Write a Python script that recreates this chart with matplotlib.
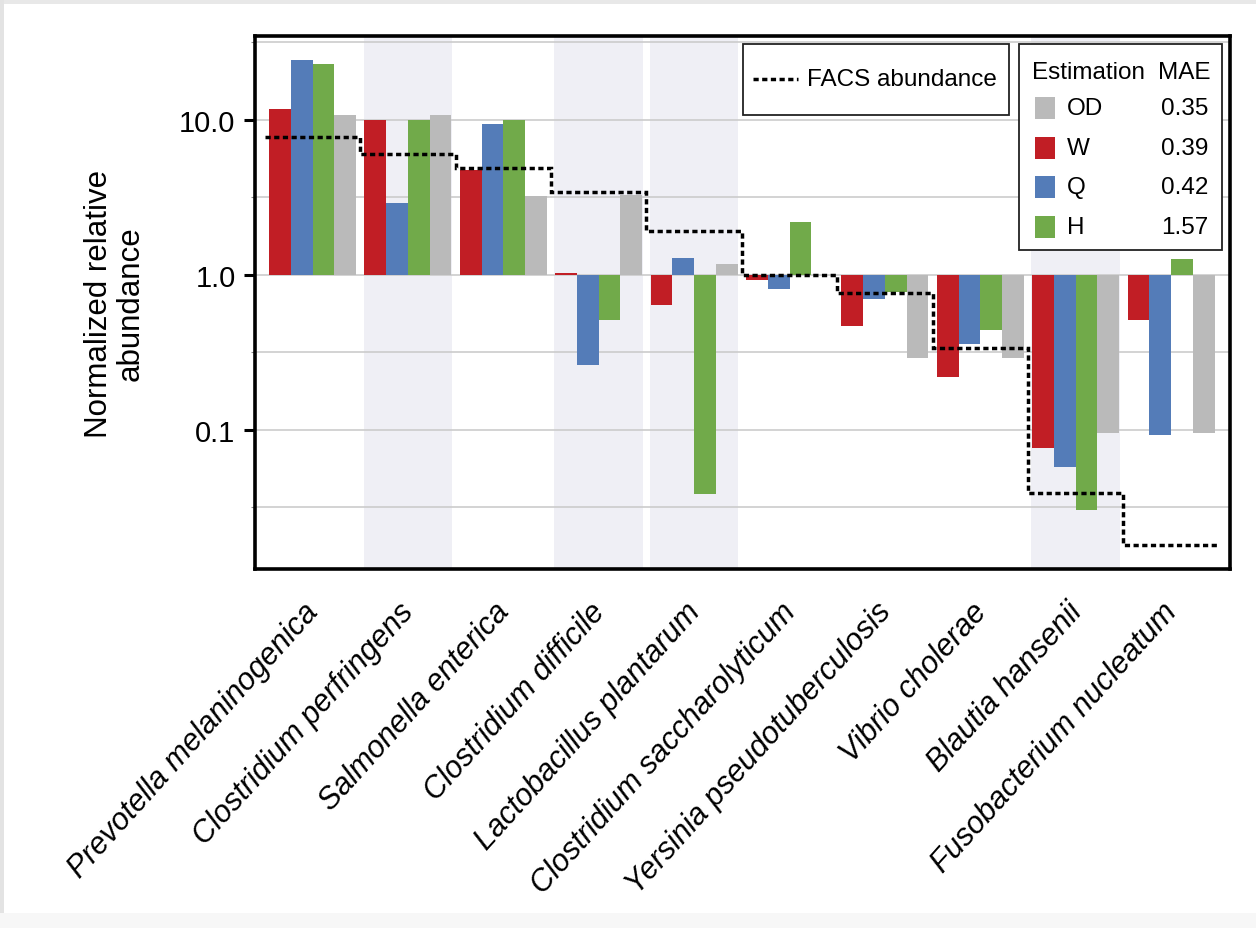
import numpy as np
import matplotlib.pyplot as plt
from matplotlib.patches import Rectangle
from matplotlib.lines import Line2D
from matplotlib.ticker import FixedLocator, NullFormatter
from matplotlib.transforms import ScaledTranslation

plt.rcParams['font.family'] = ['Liberation Sans', 'DejaVu Sans']

# species and normalized relative abundance per estimation method
species = ["Prevotella melaninogenica", "Clostridium perfringens", "Salmonella enterica",
           "Clostridium difficile", "Lactobacillus plantarum", "Clostridium saccharolyticum",
           "Yersinia pseudotuberculosis", "Vibrio cholerae", "Blautia hansenii",
           "Fusobacterium nucleatum"]
w_vals = [11.7, 10.0, 4.72, 1.03, 0.635, 0.92, 0.465, 0.219, 0.0765, 0.51]
q_vals = [24.4, 2.89, 9.43, 0.261, 1.29, 0.805, 0.70, 0.357, 0.0572, 0.092]
h_vals = [23.0, 10.0, 10.0, 0.51, 0.0385, 2.19, 0.777, 0.438, 0.0303, 1.26]
od_vals = [10.8, 10.8, 3.23, 3.27, 1.17, 1.0, 0.289, 0.289, 0.0957, 0.0957]
facs_vals = [7.7, 6.0, 4.9, 3.43, 1.91, 1.0, 0.765, 0.338, 0.039, 0.0181]

# legend table
legend_labels = ["OD", "W", "Q", "H"]
mae_vals = [0.35, 0.39, 0.42, 1.57]

shaded = [1, 3, 4, 8]
red, blue, green, gray = '#C11E25', '#547CB8', '#71AA4A', '#BABABA'
color_of = {"W": red, "Q": blue, "H": green, "OD": gray}

W, H = 1256, 929
fig = plt.figure(figsize=(W / 100, H / 100), dpi=100)
fig.patch.set_facecolor('white')

def fx(x):
    return x / W

def fy(y):
    return 1 - y / H

# thin grey margins around the page
for (x0, y0, x1, y1, c) in [(0, 0, W, 5, '#e8e8e8'), (0, 0, 4, H, '#e3e3e3'),
                            (0, 914, W, H, '#f7f7f7')]:
    fig.add_artist(Rectangle((fx(x0), fy(y1)), fx(x1) - fx(x0), fy(y0) - fy(y1),
                             transform=fig.transFigure, color=c, lw=0, zorder=-5))

ax = fig.add_axes([255 / W, fy(570), 975 / W, 533 / H])
ax.set_yscale('log')

n = len(species)
xs = np.arange(n)
width = 0.228

for g in shaded:
    ax.axvspan(g - 0.465, g + 0.465, color='#efeff5', lw=0, zorder=0)

series = [("W", w_vals), ("Q", q_vals), ("H", h_vals), ("OD", od_vals)]
for k, (name, vals) in enumerate(series):
    vals = np.array(vals)
    ax.bar(xs + (k - 1.5) * width, vals - 1.0, bottom=1.0, width=width,
           color=color_of[name], lw=0, zorder=2)

ax.stairs(facs_vals, np.arange(n + 1) - 0.5, baseline=None, color='black',
          lw=2.5, linestyle=(0, (1.5, 1.0)), zorder=3)

ax.set_xlim(-0.603, 9.617)
ax.set_ylim(0.01262, 34.7)

ax.set_yticks([0.1, 1, 10])
ax.set_yticklabels(['0.1', '1.0', '10.0'])
ax.yaxis.set_minor_locator(FixedLocator([10 ** -1.5, 10 ** -0.5, 10 ** 0.5, 10 ** 1.5]))
ax.yaxis.set_minor_formatter(NullFormatter())
ax.set_axisbelow(True)
ax.grid(which='both', axis='y', color='#c8c8c8', lw=1.1)

ax.tick_params(axis='y', which='major', length=8, width=2.2, labelsize=21, pad=6)
ax.tick_params(axis='y', which='minor', length=3, width=0.8, color='#888888')
ax.set_xticks(xs)
ax.set_xticklabels(species, rotation=48, ha='right', va='top',
                   rotation_mode='anchor', style='italic', fontsize=22)
ax.tick_params(axis='x', length=0, pad=20)
# nudge the slanted names a little to the left
shift = ScaledTranslation(-10 / 100, 0, fig.dpi_scale_trans)
for lbl in ax.get_xticklabels():
    lbl.set_transform(lbl.get_transform() + shift)

for s in ax.spines.values():
    s.set_linewidth(2.6)
    s.set_color('black')

fig.text(fx(115), fy(304), 'Normalized relative\nabundance', rotation=90,
         ha='center', va='center', fontsize=22.5, linespacing=1.05,
         multialignment='center')

# FACS legend
fig.add_artist(Rectangle((fx(743), fy(116)), fx(1009) - fx(743), fy(45) - fy(116),
                         transform=fig.transFigure, facecolor='white',
                         edgecolor='#222222', lw=1.3, zorder=5))
fig.add_artist(Line2D([fx(753), fx(798)], [fy(80), fy(80)], transform=fig.transFigure,
                      color='black', lw=2.5, linestyle=(0, (1.5, 1.0)), zorder=6))
fig.text(fx(807), fy(80), 'FACS abundance', fontsize=17.5, va='center', ha='left',
         zorder=6)

# estimation / MAE legend
fig.add_artist(Rectangle((fx(1019), fy(251)), fx(1222) - fx(1019), fy(45) - fy(251),
                         transform=fig.transFigure, facecolor='white',
                         edgecolor='#222222', lw=1.3, zorder=5))
fig.text(fx(1032), fy(73), 'Estimation', fontsize=17.5, va='center', ha='left', zorder=6)
fig.text(fx(1211), fy(73), 'MAE', fontsize=17.5, va='center', ha='right', zorder=6)
for i, (lab, mae) in enumerate(zip(legend_labels, mae_vals)):
    y = 109 + i * 39.7
    fig.add_artist(Rectangle((fx(1035), fy(y + 11)), fx(1055) - fx(1035), 22 / H,
                             transform=fig.transFigure, color=color_of[lab], lw=0,
                             zorder=6))
    fig.text(fx(1067), fy(y), lab, fontsize=17.5, va='center', ha='left', zorder=6)
    fig.text(fx(1208), fy(y), f'{mae:.2f}', fontsize=17.5, va='center', ha='right',
             zorder=6)

fig.savefig('out.png', dpi=100)
